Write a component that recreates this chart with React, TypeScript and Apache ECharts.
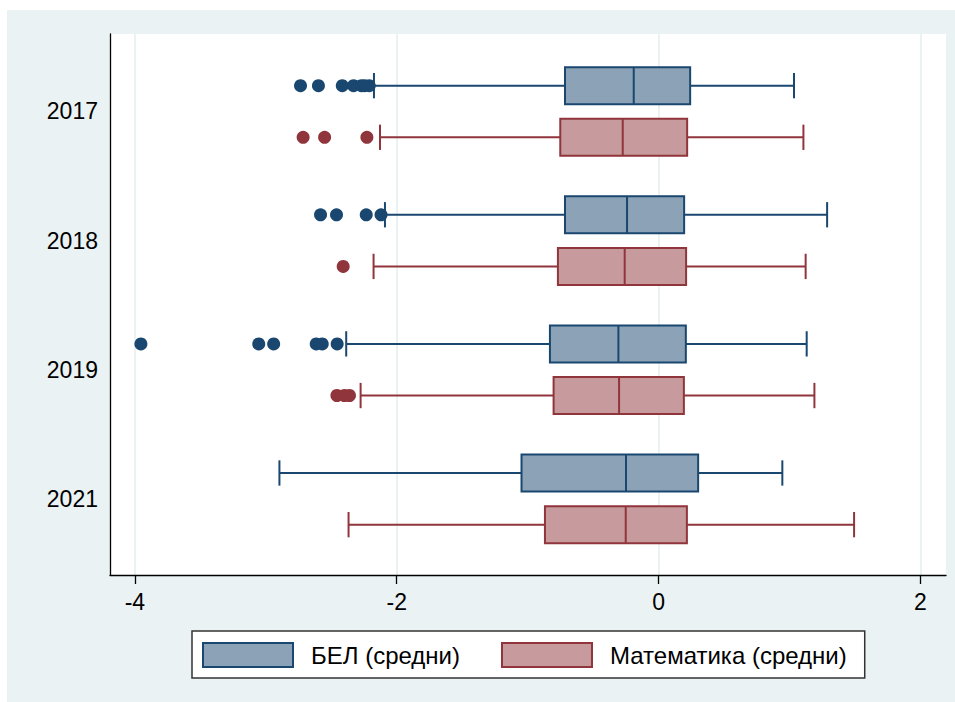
import React, { useEffect, useRef } from "react";
import * as echarts from "echarts";

const years = ["2017", "2018", "2019", "2021"];
const seriesNames = ["БЕЛ (средни)", "Математика (средни)"];
const xTicks = [-4, -2, 0, 2];

// [min whisker, Q1, median, Q3, max whisker] per year
const belStats = [
  [-2.174, -0.715, -0.19, 0.241, 1.034],
  [-2.09, -0.715, -0.241, 0.195, 1.287],
  [-2.386, -0.83, -0.307, 0.208, 1.131],
  [-2.896, -1.047, -0.249, 0.302, 0.945],
];
const matStats = [
  [-2.128, -0.751, -0.274, 0.218, 1.106],
  [-2.177, -0.769, -0.259, 0.21, 1.123],
  [-2.276, -0.802, -0.302, 0.193, 1.19],
  [-2.368, -0.868, -0.251, 0.216, 1.493],
];
const belOutliers = [
  [-2.735, -2.598, -2.416, -2.33, -2.27, -2.245, -2.21],
  [-2.582, -2.46, -2.233, -2.12],
  [-3.954, -3.054, -2.94, -2.615, -2.569, -2.455],
  [],
];
const matOutliers = [
  [-2.715, -2.551, -2.228],
  [-2.409],
  [-2.457, -2.399, -2.361],
  [],
];

const BEL_STROKE = "#1a476f";
const BEL_FILL = "#8ca3b7";
const MAT_STROKE = "#90353b";
const MAT_FILL = "#c79a9d";
const FONT = "'Liberation Sans', Arial, sans-serif";

const GROUP_OFFSET = 0.2;
const BOX_HALF = 0.1433;
const CAP_HALF = 0.098;

function makeRender(offset: number, stroke: string, fill: string) {
  return (params: any, api: any) => {
    const y = api.value(0) + offset;
    const c = (v: number) => api.coord([v, y]);
    const [xMin, yC] = c(api.value(1));
    const xQ1 = c(api.value(2))[0];
    const xMed = c(api.value(3))[0];
    const xQ3 = c(api.value(4))[0];
    const xMax = c(api.value(5))[0];
    const boxH = api.size([0, BOX_HALF * 2])[1];
    const capH = api.size([0, CAP_HALF * 2])[1];
    const ls = { stroke, lineWidth: 2 };
    return {
      type: "group",
      children: [
        { type: "line", shape: { x1: xMin, y1: yC, x2: xQ1, y2: yC }, style: ls },
        { type: "line", shape: { x1: xQ3, y1: yC, x2: xMax, y2: yC }, style: ls },
        { type: "line", shape: { x1: xMin, y1: yC - capH / 2, x2: xMin, y2: yC + capH / 2 }, style: ls },
        { type: "line", shape: { x1: xMax, y1: yC - capH / 2, x2: xMax, y2: yC + capH / 2 }, style: ls },
        {
          type: "rect",
          shape: { x: xQ1, y: yC - boxH / 2, width: xQ3 - xQ1, height: boxH },
          style: { fill, stroke, lineWidth: 2 },
        },
        { type: "line", shape: { x1: xMed, y1: yC - boxH / 2, x2: xMed, y2: yC + boxH / 2 }, style: ls },
      ],
    };
  };
}

export default function App() {
  const ref = useRef<HTMLDivElement>(null);
  useEffect(() => {
    if (!ref.current) return;
    const chart = echarts.init(ref.current, undefined, { renderer: "svg" });
    const belRows = belStats.map((s, i) => [i + 1, ...s]);
    const matRows = matStats.map((s, i) => [i + 1, ...s]);
    const belOut: number[][] = [];
    belOutliers.forEach((arr, i) => arr.forEach((v) => belOut.push([v, i + 1])));
    const matOut: number[][] = [];
    matOutliers.forEach((arr, i) => arr.forEach((v) => matOut.push([v, i + 1])));

    chart.setOption({
      animation: false,
      backgroundColor: "#eaf2f3",
      textStyle: { fontFamily: FONT },
      grid: {
        left: 103,
        right: 9,
        top: 24,
        bottom: 127,
        show: true,
        backgroundColor: "#ffffff",
        borderWidth: 0,
      },
      legend: {
        left: 185,
        top: 621,
        orient: "horizontal",
        backgroundColor: "#ffffff",
        borderColor: "#333333",
        borderWidth: 1.5,
        borderRadius: 0,
        padding: [11, 18, 10, 10],
        itemWidth: 90,
        itemHeight: 24,
        itemGap: 41,
        textStyle: { fontSize: 24, color: "#000", fontFamily: FONT, padding: [0, 0, 0, 13] },
        data: [
          { name: seriesNames[0], icon: "rect", itemStyle: { color: BEL_FILL, borderColor: BEL_STROKE, borderWidth: 2 } },
          { name: seriesNames[1], icon: "rect", itemStyle: { color: MAT_FILL, borderColor: MAT_STROKE, borderWidth: 2 } },
        ],
      },
      xAxis: {
        type: "value",
        min: -4.19,
        max: 2.195,
        axisLine: { show: true, onZero: false, lineStyle: { color: "#000", width: 1.3 } },
        axisTick: { show: true, length: 9, customValues: xTicks, lineStyle: { color: "#000", width: 1.3 } },
        axisLabel: { customValues: xTicks, fontSize: 23, color: "#000", margin: 15, fontFamily: FONT },
        splitLine: { show: true, lineStyle: { color: "#eaf2f3", width: 2 } },
      },
      yAxis: {
        type: "value",
        inverse: true,
        min: 0.4,
        max: 4.59,
        axisLine: { show: true, onZero: false, lineStyle: { color: "#000", width: 1.3 } },
        axisTick: { show: false, customValues: [1, 2, 3, 4] },
        axisLabel: {
          customValues: [1, 2, 3, 4],
          formatter: (v: number) => years[Math.round(v) - 1] ?? "",
          fontSize: 23,
          color: "#000",
          margin: 12,
          fontFamily: FONT,
        },
        splitLine: { show: false },
      },
      series: [
        {
          name: seriesNames[0],
          type: "custom",
          renderItem: makeRender(-GROUP_OFFSET, BEL_STROKE, BEL_FILL),
          encode: { x: [1, 2, 3, 4, 5], y: 0 },
          itemStyle: { color: BEL_FILL, borderColor: BEL_STROKE },
          data: belRows,
          clip: false,
          z: 2,
        },
        {
          name: seriesNames[1],
          type: "custom",
          renderItem: makeRender(GROUP_OFFSET, MAT_STROKE, MAT_FILL),
          encode: { x: [1, 2, 3, 4, 5], y: 0 },
          itemStyle: { color: MAT_FILL, borderColor: MAT_STROKE },
          data: matRows,
          clip: false,
          z: 2,
        },
        {
          name: "bel-outliers",
          type: "scatter",
          data: belOut,
          symbol: "circle",
          symbolSize: 13,
          symbolOffset: [0, -25.8],
          itemStyle: { color: BEL_STROKE, opacity: 1 },
          z: 3,
        },
        {
          name: "mat-outliers",
          type: "scatter",
          data: matOut,
          symbol: "circle",
          symbolSize: 13,
          symbolOffset: [0, 25.8],
          itemStyle: { color: MAT_STROKE, opacity: 1 },
          z: 3,
        },
      ],
    });
    return () => chart.dispose();
  }, []);
  return (
    <div
      ref={ref}
      style={{ position: "absolute", left: 7, top: 10, width: 948, height: 692 }}
    />
  );
}
